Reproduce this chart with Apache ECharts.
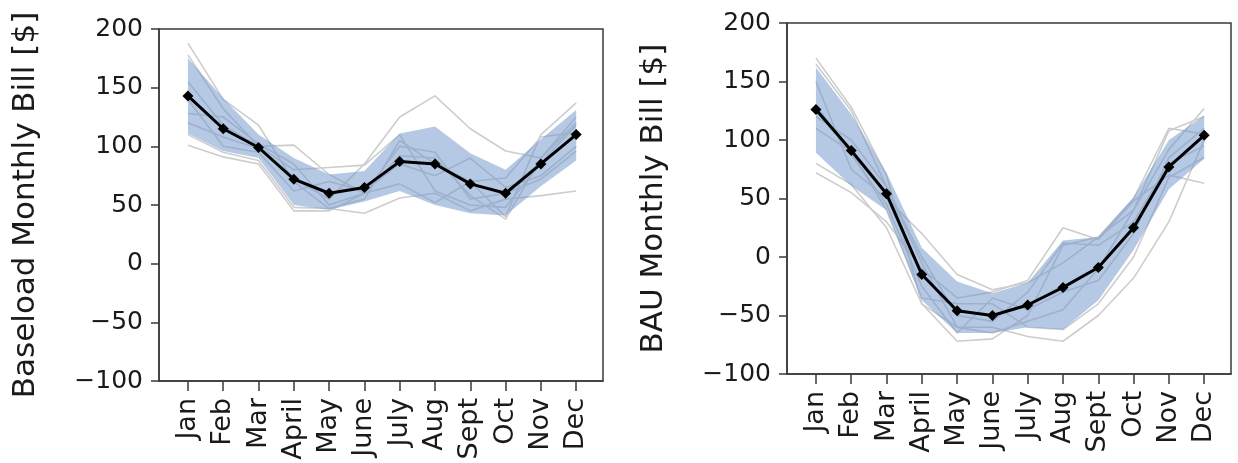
<!DOCTYPE html>
<html>
<head>
<meta charset="utf-8">
<script src="https://cdn.jsdelivr.net/npm/echarts@6/dist/echarts.min.js"></script>
<style>
  html, body { margin: 0; padding: 0; background: #fff; }
  #chart { width: 1238px; height: 463px; }
</style>
</head>
<body>
<div id="chart"></div>
<script>
// ---------------- DATA ----------------
const months = ['Jan', 'Feb', 'Mar', 'April', 'May', 'June', 'July', 'Aug', 'Sept', 'Oct', 'Nov', 'Dec'];
const yTicks = [-100, -50, 0, 50, 100, 150, 200];

// Left panel: Baseload monthly bill
const baseMean  = [143, 115, 99, 72, 60, 65, 87, 85, 68, 60, 85, 110];
const baseUpper = [175, 141, 110, 90, 76, 79, 111, 117, 94, 80, 106, 131];
const baseLower = [111, 96, 90, 50, 46, 53, 62, 50, 43, 41, 66, 88];
const baseRun1 = [188, 140, 118, 70, 47, 55, 105, 85, 70, 40, 110, 137];
const baseRun2 = [178, 132, 100, 101, 76, 60, 92, 90, 58, 38, 90, 125];
const baseRun3 = [120, 108, 98, 72, 55, 85, 125, 143, 115, 96, 90, 120];
const baseRun4 = [155, 118, 100, 80, 82, 84, 110, 62, 50, 48, 86, 118];
const baseRun5 = [110, 95, 88, 48, 47, 43, 56, 60, 45, 55, 58, 62];
const baseRun6 = [101, 91, 85, 45, 45, 60, 68, 52, 70, 73, 108, 112];
const baseRun7 = [140, 100, 95, 62, 70, 62, 85, 75, 90, 65, 75, 100];
const baseRun8 = [128, 125, 102, 85, 50, 60, 100, 95, 55, 60, 72, 96];

// Right panel: BAU monthly bill
const bauMean  = [126, 91, 54, -15, -46, -50, -41, -26, -9, 25, 77, 104];
const bauUpper = [162, 122, 72, 8, -21, -31, -22, 14, 17, 51, 100, 121];
const bauLower = [89, 61, 40, -37, -65, -65, -60, -62, -37, 6, 58, 84];
const bauRun1 = [170, 128, 70, -40, -72, -70, -50, 10, 17, 50, 110, 105];
const bauRun2 = [165, 125, 60, -5, -60, -65, -55, -45, -10, 40, 92, 127];
const bauRun3 = [72, 55, 30, -10, -35, -30, -20, 25, 15, 48, 70, 63];
const bauRun4 = [150, 75, 50, 20, -15, -28, -22, -5, 17, 40, 108, 120];
const bauRun5 = [120, 100, 60, 0, -50, -55, -30, 12, 10, 30, 80, 95];
const bauRun6 = [110, 90, 40, -35, -40, -40, -60, -62, -40, 0, 68, 85];
const bauRun7 = [130, 88, 45, -25, -65, -35, -45, -30, -20, 20, 85, 110];
const bauRun8 = [80, 62, 25, -40, -60, -60, -68, -72, -50, -18, 30, 100];

const baseRuns = [baseRun1, baseRun2, baseRun3, baseRun4, baseRun5, baseRun6, baseRun7, baseRun8];
const bauRuns  = [bauRun1, bauRun2, bauRun3, bauRun4, bauRun5, bauRun6, bauRun7, bauRun8];

// ---------------- CHART ----------------
const FONT = 'DejaVu Sans';
const AXIS_COLOR = '#3a3a3a';
const TEXT_COLOR = '#1a1a1a';
const BAND_COLOR = 'rgba(115,152,204,0.52)';
const monthIdx = months.map((m, i) => i);
const pairs = arr => arr.map((v, i) => [i, v]);

function xAxisFor(gridIndex) {
  return {
    type: 'value', gridIndex: gridIndex, min: -0.82, max: 11.76,
    splitLine: { show: false },
    axisLine: { show: true, onZero: false, lineStyle: { color: AXIS_COLOR, width: 1.5 } },
    axisTick: { show: true, customValues: monthIdx, length: 10, lineStyle: { color: AXIS_COLOR, width: 1.5 } },
    axisLabel: {
      customValues: monthIdx, rotate: 90, margin: 17,
      fontFamily: FONT, fontSize: 27, color: TEXT_COLOR,
      formatter: v => months[Math.round(v)]
    }
  };
}
function yAxisFor(gridIndex, name) {
  return {
    type: 'value', gridIndex: gridIndex, min: yTicks[0], max: yTicks[yTicks.length - 1], interval: 50,
    name: name, nameLocation: 'middle', nameGap: 118,
    nameTextStyle: { fontFamily: FONT, fontSize: 31, color: TEXT_COLOR },
    splitLine: { show: false },
    axisLine: { show: true, onZero: false, lineStyle: { color: AXIS_COLOR, width: 1.5 } },
    axisTick: { show: true, length: 8, lineStyle: { color: AXIS_COLOR, width: 1.5 } },
    axisLabel: {
      margin: 16, fontFamily: FONT, fontSize: 25, color: TEXT_COLOR,
      formatter: v => (v < 0 ? '\u2212' + Math.abs(v) : String(v))
    }
  };
}

function panelSeries(idx, runs, lower, upper, mean) {
  const out = [];
  runs.forEach((r) => {
    out.push({
      type: 'line', xAxisIndex: idx, yAxisIndex: idx, data: pairs(r),
      symbol: 'none', silent: true, z: 1,
      lineStyle: { color: '#cdcdcd', width: 1.6 }
    });
  });
  // Shaded band between lower and upper, drawn as one polygon through the axes' scales
  out.push({
    type: 'custom', xAxisIndex: idx, yAxisIndex: idx, silent: true, z: 2,
    data: upper.map((u, i) => [i, u, lower[i]]),
    encode: { x: 0, y: [1, 2] },
    renderItem: function (params, api) {
      if (params.dataIndex !== 0) return null;
      const pts = [];
      for (let i = 0; i < upper.length; i++) pts.push(api.coord([i, upper[i]]));
      for (let i = lower.length - 1; i >= 0; i--) pts.push(api.coord([i, lower[i]]));
      return { type: 'polygon', shape: { points: pts }, style: { fill: BAND_COLOR } };
    }
  });
  out.push({
    type: 'line', xAxisIndex: idx, yAxisIndex: idx, data: pairs(mean),
    symbol: 'diamond', symbolSize: 11, z: 5,
    itemStyle: { color: '#000' },
    lineStyle: { color: '#000', width: 3 }
  });
  return out;
}

const chart = echarts.init(document.getElementById('chart'), null, { renderer: 'canvas' });
chart.setOption({
  animation: false,
  backgroundColor: '#ffffff',
  grid: [
    { left: 159, top: 29, width: 444, height: 352, show: true, borderColor: AXIS_COLOR, borderWidth: 1.5, backgroundColor: 'transparent' },
    { left: 787, top: 23, width: 444, height: 351, show: true, borderColor: AXIS_COLOR, borderWidth: 1.5, backgroundColor: 'transparent' }
  ],
  xAxis: [xAxisFor(0), xAxisFor(1)],
  yAxis: [yAxisFor(0, 'Baseload Monthly Bill [$]'), yAxisFor(1, 'BAU Monthly Bill [$]')],
  series: [].concat(
    panelSeries(0, baseRuns, baseLower, baseUpper, baseMean),
    panelSeries(1, bauRuns, bauLower, bauUpper, bauMean)
  )
});
</script>
</body>
</html>
